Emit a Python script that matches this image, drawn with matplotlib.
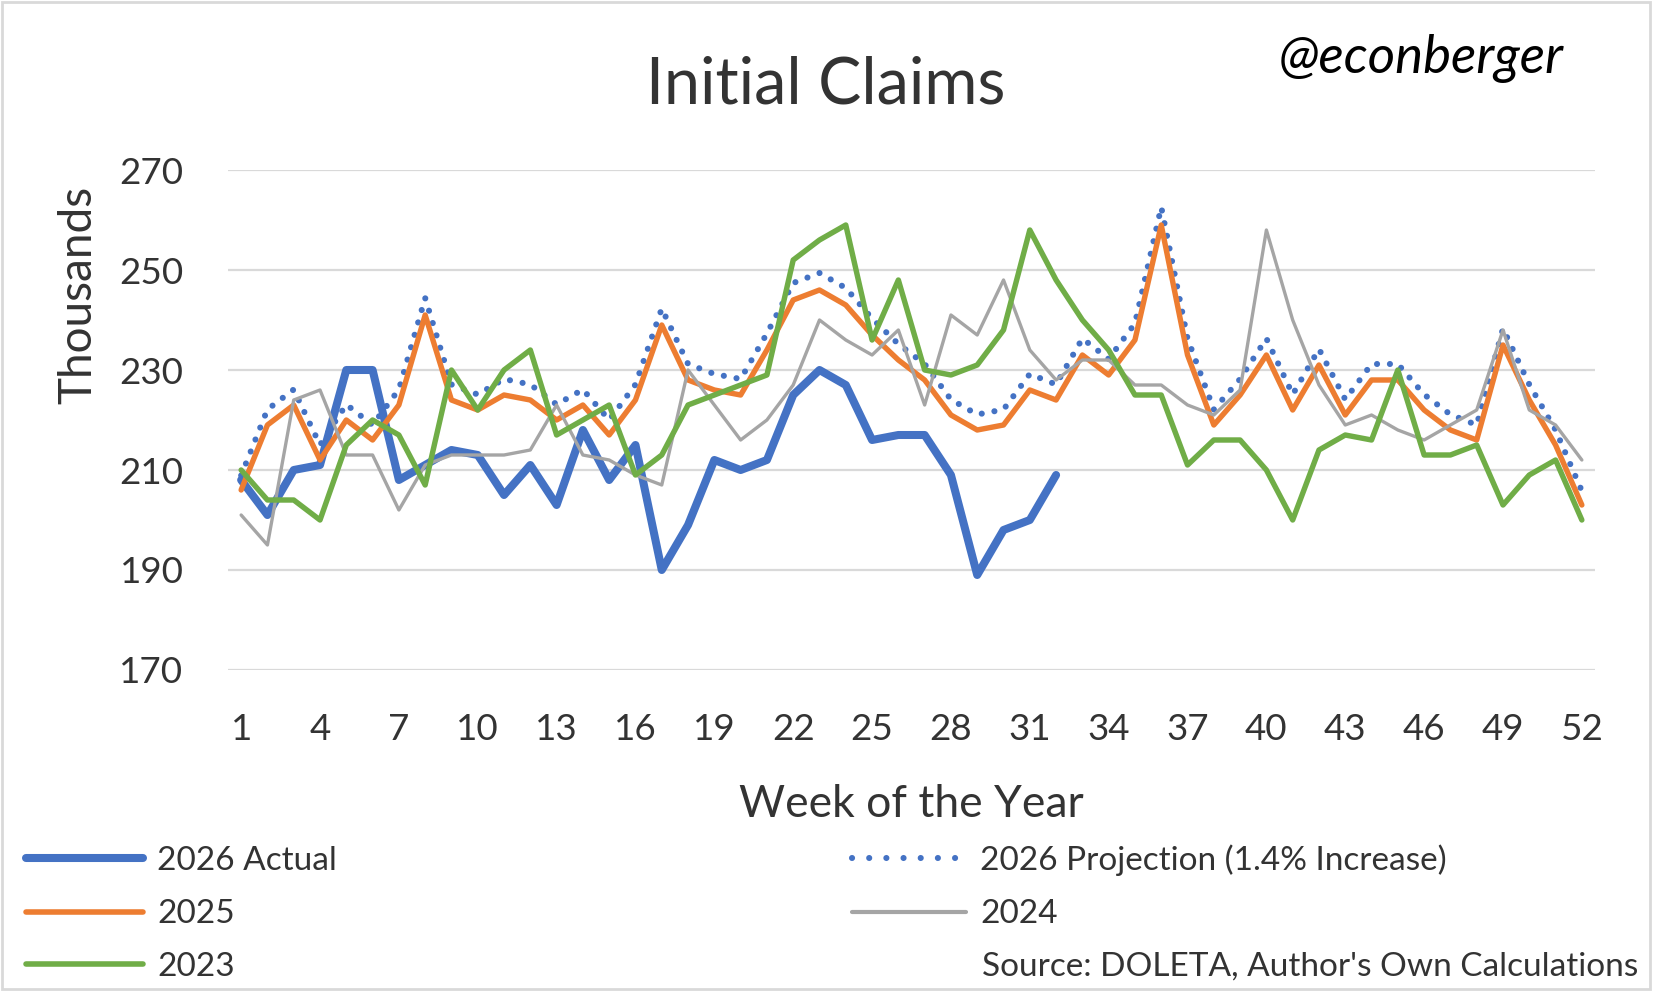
import matplotlib
matplotlib.use('Agg')
import matplotlib.pyplot as plt
from matplotlib.lines import Line2D
from matplotlib.patches import Rectangle

# weekly initial claims, thousands
weeks = list(range(1, 53))
actual_2026 = [208, 201, 210, 211, 230, 230, 208, 211, 214, 213, 205, 211, 203, 218, 208, 215,
               190, 199, 212, 210, 212, 225, 230, 227, 216, 217, 217, 209, 189, 198, 200, 209]
projection_2026 = [208.9, 222.1, 226.1, 215.0, 223.1, 219.0, 226.1, 244.4, 227.1, 225.1, 228.2, 227.1, 223.1,
                   226.1, 220.0, 227.1, 242.3, 231.2, 229.2, 228.2, 237.3, 247.4, 249.4, 246.4, 240.3, 235.2,
                   231.2, 224.1, 221.1, 222.1, 229.2, 227.1, 236.3, 232.2, 239.3, 262.6, 236.3, 222.1, 228.2,
                   236.3, 225.1, 234.2, 224.1, 231.2, 231.2, 225.1, 221.1, 219.0, 238.3, 227.1, 218.0, 205.8]
claims_2025 = [206, 219, 223, 212, 220, 216, 223, 241, 224, 222, 225, 224, 220, 223, 217, 224,
               239, 228, 226, 225, 234, 244, 246, 243, 237, 232, 228, 221, 218, 219, 226, 224,
               233, 229, 236, 259, 233, 219, 225, 233, 222, 231, 221, 228, 228, 222, 218, 216,
               235, 224, 215, 203]
claims_2024 = [201, 195, 224, 226, 213, 213, 202, 211, 213, 213, 213, 214, 223, 213, 212, 209,
               207, 230, 223, 216, 220, 227, 240, 236, 233, 238, 223, 241, 237, 248, 234, 228,
               232, 232, 227, 227, 223, 221, 226, 258, 240, 227, 219, 221, 218, 216, 219, 222,
               238, 222, 219, 212]
claims_2023 = [210, 204, 204, 200, 215, 220, 217, 207, 230, 222, 230, 234, 217, 220, 223, 209,
               213, 223, 225, 227, 229, 252, 256, 259, 236, 248, 230, 229, 231, 238, 258, 248,
               240, 234, 225, 225, 211, 216, 216, 210, 200, 214, 217, 216, 230, 213, 213, 215,
               203, 209, 212, 200]

week_ticks = list(range(1, 53, 3))
y_ticks = [170, 190, 210, 230, 250, 270]

plt.rcParams['font.family'] = ['Lato', 'DejaVu Sans']
txt = '#333333'

W, H = 1653, 993
fig = plt.figure(figsize=(W / 100, H / 100), dpi=100)
ax = fig.add_axes([228 / W, 1 - 670 / H, (1595 - 228) / W, 500 / H])

blue, orange, gray, green = '#4472c4', '#ed7d31', '#a5a5a5', '#70ad47'
dot_style = (0, (0.01, 2.1))
common = dict(solid_joinstyle='round', solid_capstyle='round')

ax.plot(weeks[:len(actual_2026)], actual_2026, color=blue, lw=5.8, **common)
ax.plot(weeks, projection_2026, color=blue, lw=4.4, linestyle=dot_style, dash_capstyle='round')
ax.plot(weeks, claims_2025, color=orange, lw=3.9, **common)
ax.plot(weeks, claims_2024, color=gray, lw=2.4, **common)
ax.plot(weeks, claims_2023, color=green, lw=3.9, **common)

ax.set_xlim(0.5, 52.5)
ax.set_ylim(170, 270)
ax.set_xticks(week_ticks)
ax.set_yticks(y_ticks)
ax.grid(axis='y', color='#d9d9d9', lw=1.6)
ax.set_axisbelow(True)
for s in ax.spines.values():
    s.set_visible(False)
ax.tick_params(axis='both', length=0, labelsize=26.5, labelcolor=txt)
ax.tick_params(axis='x', pad=31)
ax.tick_params(axis='y', pad=32)

fig.text(826 / W, 1 - 103 / H, 'Initial Claims', ha='center', va='baseline', fontsize=46.5, color=txt)
fig.text(1279 / W, 1 - 73 / H, '@econberger', ha='left', va='baseline', fontsize=38,
         style='italic', color='black')
fig.text(911 / W, 1 - 817 / H, 'Week of the Year', ha='center', va='baseline', fontsize=32, color=txt)
fig.text(78 / W, 1 - 295 / H, 'Thousands', ha='center', va='center', rotation=90, fontsize=33, color=txt)

# legend drawn by hand to match the two-column layout
legend_rows = [
    (26, 143, 858, 870, dict(color=blue, lw=5.8, solid_capstyle='round'), '2026 Actual'),
    (852, 966, 858, 870, dict(color=blue, lw=4.4, linestyle=(0, (0.01, 2.8)), dash_capstyle='round'),
     '2026 Projection (1.4% Increase)'),
    (26, 143, 912, 923, dict(color=orange, lw=4.0, solid_capstyle='round'), '2025'),
    (852, 966, 912, 923, dict(color=gray, lw=3.0, solid_capstyle='round'), '2024'),
    (26, 143, 964, 976, dict(color=green, lw=4.0, solid_capstyle='round'), '2023'),
]
for x0, x1, yl, yb, style, label in legend_rows:
    fig.add_artist(Line2D([x0 / W, x1 / W], [1 - yl / H, 1 - yl / H], transform=fig.transFigure, **style))
    fig.text((x1 + 14) / W, 1 - yb / H, label, ha='left', va='baseline', fontsize=24, color=txt)
fig.text(982 / W, 1 - 976 / H, "Source: DOLETA, Author's Own Calculations", ha='left', va='baseline',
         fontsize=24, color=txt)

fig.add_artist(Rectangle((1.5 / W, 1 - 989 / H), 1648.5 / W, 987.5 / H, transform=fig.transFigure,
                         fill=False, ec='#d9d9d9', lw=2))

fig.savefig('out.png', dpi=100)
